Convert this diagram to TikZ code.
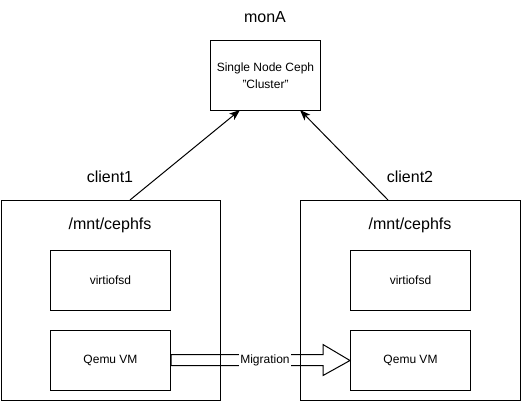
\documentclass[tikz,border=0pt]{standalone}
\usepackage{fontspec}
\setmainfont{Liberation Sans}
\usetikzlibrary{arrows.meta,calc}
\begin{document}
\begin{tikzpicture}[x=0.75pt,y=-0.75pt,line width=0.75pt,
  box/.style={draw,rectangle,inner sep=0pt,anchor=north west},
  big/.style={font=\fontsize{12pt}{14pt}\selectfont},
  small/.style={font=\fontsize{9pt}{11pt}\selectfont},
  conn/.style={-{Stealth[length=8pt,width=6pt,inset=2pt]}}]
\useasboundingbox (0,0) rectangle (521,401);
% Ceph
\node[box,minimum width=82.5pt,minimum height=52.5pt,small,align=center] (ceph) at (210,40) {Single Node Ceph\\[2pt]"Cluster"};
\node[big] (mona) at (265,17) {monA};
% outer boxes
\node[box,minimum width=164.25pt,minimum height=150pt] (c1) at (1,200) {};
\node[box,minimum width=165pt,minimum height=150pt] (c2) at (300,200) {};
\node[big] (l1) at (110,177) {client1};
\node[big] (l2) at (410,177) {client2};
\node[big] (m1) at (110,225) {/mnt/cephfs};
\node[big] (m2) at (410,225) {/mnt/cephfs};
% inner boxes
\node[box,minimum width=90pt,minimum height=45pt,small] (v1) at (50,250) {};
\node[small] at (v1.center) {virtiofsd};
\node[box,minimum width=90pt,minimum height=45pt] (q1) at (50,330) {};
\node[small] at (q1.center) {Qemu VM};
\node[box,minimum width=90pt,minimum height=45pt] (v2) at (350,250) {};
\node[small] at (v2.center) {virtiofsd};
\node[box,minimum width=90pt,minimum height=45pt] (q2) at (350,330) {};
\node[small] at (q2.center) {Qemu VM};
% connectors
\coordinate (s1) at (130,200);
\coordinate (t1) at (240,110);
\coordinate (s2) at (388,200);
\coordinate (t2) at (300,110);
\draw[conn] (s1) -- (t1);
\draw[conn] (s2) -- (t2);
% migration arrow
\draw[line join=miter] ($(q1.east)+(0,-6)$) -- ($(q2.west)+(-27,-6)$) -- ($(q2.west)+(-27,-16)$) -- (q2.west)
  -- ($(q2.west)+(-27,15)$) -- ($(q2.west)+(-27,5)$) -- ($(q1.east)+(0,5)$) -- cycle;
\node[small,fill=white,inner sep=1pt] (mig) at (265,360) {Migration};
\end{tikzpicture}
\end{document}
